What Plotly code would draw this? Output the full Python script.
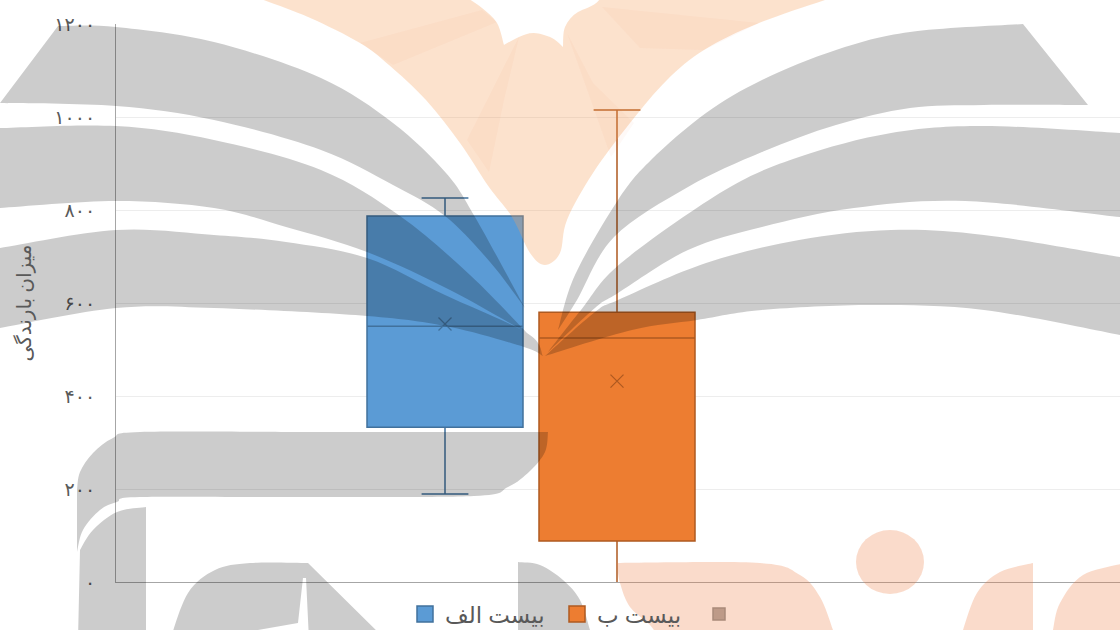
import plotly.graph_objects as go

# ---------- data ----------
series_names = ["بیست الف", "بیست ب", " "]
series_pos = [0, 1]
lower_whisker = [189, -10]
q1_values = [333, 88]
median_values = [550, 525]
q3_values = [787, 580]
upper_whisker = [826, 1015]
mean_values = [555, 432]
y_tick_values = [0, 200, 400, 600, 800, 1000, 1200]
y_tick_labels = ["۰", "۲۰۰", "۴۰۰", "۶۰۰", "۸۰۰", "۱۰۰۰", "۱۲۰۰"]
y_title = "میزان بارندگی"

fill_colors = ["#5B9BD5", "#ED7D31", "#BD9A88"]
line_colors = ["#41719C", "#AE5A21", "#A98A7A"]

# ---------- geometry ----------
W, H = 1120, 630
L, R, T, B = 116, 1120, 24, 582
UNIT = 172.0
X0 = 445.0


def px(x, y):
    return (x - L) / (R - L), (B - y) / (B - T)


def smooth(points, first=True):
    """Catmull-Rom through points, as path text in paper units."""
    out = []
    p = [points[0]] + list(points) + [points[-1]]
    if first:
        out.append("M%.5f,%.5f" % px(*points[0]))
    for i in range(1, len(p) - 2):
        a, b, c, d = p[i - 1], p[i], p[i + 1], p[i + 2]
        c1 = (b[0] + (c[0] - a[0]) / 6, b[1] + (c[1] - a[1]) / 6)
        c2 = (c[0] - (d[0] - b[0]) / 6, c[1] - (d[1] - b[1]) / 6)
        out.append("C%.5f,%.5f %.5f,%.5f %.5f,%.5f" % (*px(*c1), *px(*c2), *px(*c)))
    return " ".join(out)


def band(top, bottom):
    return smooth(top) + " L%.5f,%.5f " % px(*bottom[-1]) + smooth(bottom[::-1], False) + " Z"


def poly(points):
    return "M" + " L".join("%.5f,%.5f" % px(*p) for p in points) + " Z"


GREY = "rgba(0,0,0,0.2)"
PETAL = "rgba(245,160,90,0.3)"
PETAL2 = "rgba(237,100,60,0.04)"
ORANGE = "rgba(237,125,70,0.28)"

grey_paths = [
    band([(58, 26), (116, 27), (214, 42), (321, 78), (393, 123), (446, 173), (475, 217), (525, 308)],
         [(0, 103), (116, 106), (214, 120), (321, 150), (393, 185), (445, 216), (490, 262), (525, 308)]),
    band([(0, 128), (116, 126), (214, 140), (321, 170), (400, 216), (470, 275), (527, 333)],
         [(0, 208), (116, 201), (214, 208), (286, 227), (367, 252), (450, 290), (527, 333)]),
    band([(0, 248), (116, 230), (214, 235), (286, 242), (367, 258), (445, 295), (527, 333), (543, 356)],
         [(0, 328), (116, 308), (214, 308), (367, 316), (450, 327), (524, 347), (543, 356)]),
    band([(1023, 24), (910, 32), (836, 50), (762, 80), (706, 113), (651, 160), (618, 200), (575, 275), (558, 330)],
         [(1088, 105), (984, 105), (910, 108), (836, 125), (762, 152), (688, 187), (614, 237), (577, 300), (558, 330)]),
    band([(1120, 133), (984, 126), (891, 133), (799, 157), (725, 190), (621, 263), (581, 310), (548, 352)],
         [(1120, 217), (965, 201), (854, 208), (762, 227), (688, 250), (618, 293), (595, 308), (548, 352)]),
    band([(1120, 257), (984, 235), (891, 230), (799, 240), (706, 263), (618, 300), (595, 312), (545, 356)],
         [(1120, 335), (984, 310), (873, 305), (762, 310), (697, 320), (632, 330), (545, 356)]),
    # bottom-left letter forms
    smooth([(548, 432), (545, 452), (530, 471), (508, 487), (474, 496), (300, 497), (140, 497), (117, 502),
            (100, 510), (83, 530), (77, 552)])
    + " L%.5f,%.5f " % px(77, 490)
    + smooth([(77, 490), (80, 472), (93, 453), (113, 438), (140, 432), (300, 432)], False) + " Z",
    smooth([(146, 507), (117, 512), (93, 530), (80, 550)]) + " L%.5f,%.5f L%.5f,%.5f L%.5f,%.5f Z" % (*px(78, 640), *px(146, 640), *px(146, 507)),
    smooth([(170, 640), (188, 593), (215, 570), (250, 563), (308, 563)])
    + " L%.5f,%.5f L%.5f,%.5f L%.5f,%.5f L%.5f,%.5f L%.5f,%.5f L%.5f,%.5f L%.5f,%.5f Z"
    % (*px(386, 640), *px(309, 640), *px(306, 578), *px(303, 578), *px(298, 623), *px(258, 630), *px(250, 640)),
    smooth([(518, 562), (540, 565), (563, 580), (580, 600), (590, 630), (592, 640)])
    + " L%.5f,%.5f Z" % px(518, 640),
]

petal_paths = [
    smooth([(250, -5), (308, 17), (360, 43), (389, 65), (426, 100), (460, 143), (489, 187), (512, 217),
            (530, 253), (545, 265), (560, 253), (567, 220), (593, 173), (630, 123), (667, 80), (704, 50),
            (759, 23), (840, -5)])
    + " L%.5f,%.5f " % px(602, -5)
    + smooth([(602, 5), (578, 12), (565, 27), (563, 47)], False)
    + " " + smooth([(563, 47), (552, 38), (534, 33), (519, 37), (504, 45)], False)
    + " " + smooth([(504, 45), (497, 23), (482, 8), (463, -5)], False) + " Z",
]
petal_shades = [
    poly([(360, 43), (482, 10), (497, 22), (393, 65)]),
    poly([(519, 37), (467, 140), (489, 172), (504, 100)]),
    poly([(567, 33), (611, 157), (634, 123), (593, 83)]),
    poly([(602, 7), (759, 23), (704, 50), (640, 48)]),
]
orange_paths = [
    smooth([(617, 563), (760, 563), (800, 575), (820, 597), (833, 630), (836, 640)])
    + " L%.5f,%.5f " % px(660, 640) + smooth([(660, 640), (650, 625), (630, 607), (620, 583), (617, 563)], False) + " Z",
    smooth([(1033, 563), (1000, 572), (977, 593), (963, 630), (961, 640)]) + " L%.5f,%.5f Z" % px(1033, 640),
    smooth([(1125, 563), (1083, 575), (1060, 603), (1053, 630), (1052, 640)]) + " L%.5f,%.5f Z" % px(1125, 640),
]

shapes = []
for d in petal_paths:
    shapes.append(dict(type="path", path=d, xref="paper", yref="paper", fillcolor=PETAL, line_width=0, layer="above"))
for d in petal_shades:
    shapes.append(dict(type="path", path=d, xref="paper", yref="paper", fillcolor=PETAL2, line_width=0, layer="above"))
for d in orange_paths:
    shapes.append(dict(type="path", path=d, xref="paper", yref="paper", fillcolor=ORANGE, line_width=0, layer="above"))
cx0, cy0 = px(856, 530)
cx1, cy1 = px(924, 594)
shapes.append(dict(type="circle", xref="paper", yref="paper", x0=cx0, y0=cy0, x1=cx1, y1=cy1,
                   fillcolor=ORANGE, line_width=0, layer="above"))
for d in grey_paths:
    shapes.append(dict(type="path", path=d, xref="paper", yref="paper", fillcolor=GREY, line_width=0, layer="above"))

# ---------- traces ----------
fig = go.Figure()
for i in range(2):
    fig.add_trace(go.Box(
        x=[series_pos[i]], q1=[q1_values[i]], median=[median_values[i]], q3=[q3_values[i]],
        lowerfence=[lower_whisker[i]], upperfence=[upper_whisker[i]],
        width=156 / UNIT, whiskerwidth=0.3, fillcolor=fill_colors[i],
        line=dict(color=line_colors[i], width=1.5), boxpoints=False,
        legendgroup=str(i), showlegend=False, hoverinfo="skip",
    ))
    fig.add_trace(go.Scatter(
        x=[series_pos[i]], y=[mean_values[i]], mode="markers",
        marker=dict(symbol="x-thin-open", size=13, color=line_colors[i], line=dict(color=line_colors[i], width=1.3)),
        legendgroup=str(i), showlegend=False, hoverinfo="skip",
    ))
for i in range(3):
    fig.add_trace(go.Scatter(
        x=[None], y=[None], mode="markers", name=series_names[i], legendgroup=str(i),
        legend="legend2" if i == 2 else "legend",
        marker=dict(symbol="square", size=16 if i < 2 else 12, color=fill_colors[i],
                    line=dict(color=line_colors[i], width=1.5)),
    ))

LEGEND_Y = (B - 614) / (B - T)
fig.update_layout(
    width=W, height=H, autosize=False,
    margin=dict(l=L, r=W - R, t=T, b=H - B, pad=0, autoexpand=False),
    paper_bgcolor="white", plot_bgcolor="white",
    font=dict(family="Noto Sans, DejaVu Sans, sans-serif", color="#595959", size=16),
    shapes=shapes, showlegend=True,
    legend=dict(orientation="h", x=(405 - L) / (R - L), y=LEGEND_Y,
                xanchor="left", yanchor="middle", entrywidth=107, entrywidthmode="pixels",
                itemwidth=30, font=dict(size=23, color="#595959"), bgcolor="rgba(0,0,0,0)"),
    legend2=dict(orientation="h", x=(699 - L) / (R - L), y=LEGEND_Y,
                 xanchor="left", yanchor="middle", itemwidth=30,
                 font=dict(size=23, color="#595959"), bgcolor="rgba(0,0,0,0)"),
    xaxis=dict(range=[(L - X0) / UNIT, (R - X0) / UNIT], showticklabels=False, showgrid=False,
               zeroline=False, showline=True, linecolor="#A6A6A6", linewidth=1, ticks=""),
    yaxis=dict(range=[0, 1200], tickmode="array", tickvals=y_tick_values, ticktext=y_tick_labels,
               showgrid=True, gridcolor="#EDEDED", gridwidth=1, zeroline=False,
               showline=True, linecolor="#A6A6A6", linewidth=1, ticks="", ticklabelstandoff=16,
               tickfont=dict(size=19, color="#595959"),
               title=dict(text=y_title, standoff=17, font=dict(size=20, color="#595959"))),
)

fig.write_html("out.html", config={"displayModeBar": False}, post_script="document.body.style.margin='0';")
